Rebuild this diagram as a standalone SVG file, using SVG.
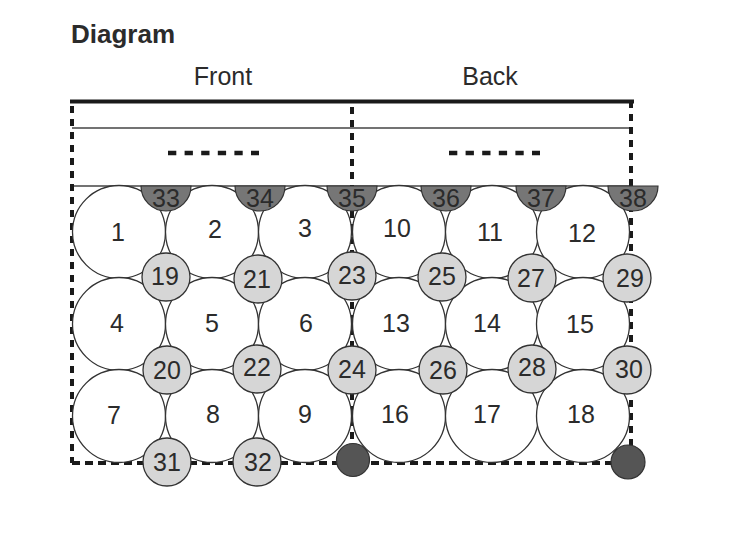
<svg xmlns="http://www.w3.org/2000/svg" width="755" height="547" viewBox="0 0 755 547">
<style>
text{font-family:"Liberation Sans",Arial,Helvetica,sans-serif;fill:#2b2b2b;}
.t{font-size:25px;text-anchor:middle;}
.big{fill:#fff;stroke:#333;stroke-width:1.3;}
.sm{fill:#d6d6d6;stroke:#333;stroke-width:1.3;}
.semi{fill:#767676;stroke:#333;stroke-width:1.2;}
.dk{fill:#555;stroke:#333;stroke-width:1.2;}
.dash{stroke:#1a1a1a;stroke-width:4;fill:none;stroke-dasharray:7 6;}
.thin{stroke:#444;stroke-width:1.5;fill:none;}
</style>
<rect width="755" height="547" fill="#fff"/>
<text x="71" y="43" style="font-size:26px;font-weight:bold;">Diagram</text>
<text class="t" x="223" y="85">Front</text>
<text class="t" x="490" y="85">Back</text>
<g id="frame">
<line x1="70" y1="101.5" x2="634" y2="101.5" stroke="#1a1a1a" stroke-width="4"/>
<line class="thin" x1="72" y1="128" x2="631" y2="128"/>
<line class="thin" x1="72" y1="186" x2="633" y2="186"/>
<line class="dash" x1="72" y1="106" x2="72" y2="463"/>
<line class="dash" x1="352" y1="107" x2="352" y2="460"/>
<line class="dash" x1="631" y1="101" x2="631" y2="460"/>
<line class="dash" x1="72" y1="463" x2="628" y2="463" style="stroke-dasharray:8 5"/>
<line class="dash" x1="168" y1="153" x2="259" y2="153" style="stroke-dasharray:8.3 8.3;stroke-width:4.5"/>
<line class="dash" x1="449" y1="153" x2="540" y2="153" style="stroke-dasharray:8.3 8.3;stroke-width:4.5"/>
</g>
<g id="n1"><circle class="big" cx="119" cy="232" r="46.5"/></g>
<g id="n2"><circle class="big" cx="212" cy="232" r="46.5"/></g>
<g id="n3"><circle class="big" cx="305" cy="232" r="46.5"/></g>
<g id="n10"><circle class="big" cx="399" cy="232" r="46.5"/></g>
<g id="n11"><circle class="big" cx="492" cy="232" r="46.5"/></g>
<g id="n12"><circle class="big" cx="583" cy="232" r="46.5"/></g>
<g id="n4"><circle class="big" cx="119" cy="324" r="46.5"/></g>
<g id="n5"><circle class="big" cx="212" cy="324" r="46.5"/></g>
<g id="n6"><circle class="big" cx="305" cy="324" r="46.5"/></g>
<g id="n13"><circle class="big" cx="399" cy="324" r="46.5"/></g>
<g id="n14"><circle class="big" cx="492" cy="324" r="46.5"/></g>
<g id="n15"><circle class="big" cx="583" cy="324" r="46.5"/></g>
<g id="n7"><circle class="big" cx="119" cy="416" r="46.5"/></g>
<g id="n8"><circle class="big" cx="212" cy="416" r="46.5"/></g>
<g id="n9"><circle class="big" cx="305" cy="416" r="46.5"/></g>
<g id="n16"><circle class="big" cx="399" cy="416" r="46.5"/></g>
<g id="n17"><circle class="big" cx="492" cy="416" r="46.5"/></g>
<g id="n18"><circle class="big" cx="583" cy="416" r="46.5"/></g>
<g id="labels-big">
<text class="t" x="118" y="241">1</text>
<text class="t" x="215" y="238">2</text>
<text class="t" x="305" y="237">3</text>
<text class="t" x="397" y="237">10</text>
<text class="t" x="490" y="241">11</text>
<text class="t" x="582" y="242">12</text>
<text class="t" x="117" y="332">4</text>
<text class="t" x="212" y="332">5</text>
<text class="t" x="306" y="332">6</text>
<text class="t" x="396" y="332">13</text>
<text class="t" x="487" y="332">14</text>
<text class="t" x="580" y="333">15</text>
<text class="t" x="114" y="424">7</text>
<text class="t" x="213" y="423">8</text>
<text class="t" x="305" y="423">9</text>
<text class="t" x="395" y="423">16</text>
<text class="t" x="487" y="423">17</text>
<text class="t" x="581" y="423">18</text>
</g>
<g id="n19"><circle class="sm" cx="166" cy="277" r="24"/><text class="t" x="165" y="285">19</text></g>
<g id="n21"><circle class="sm" cx="258" cy="279" r="24"/><text class="t" x="257" y="288">21</text></g>
<g id="n23"><circle class="sm" cx="352" cy="276" r="24"/><text class="t" x="352" y="284">23</text></g>
<g id="n25"><circle class="sm" cx="442" cy="277" r="24"/><text class="t" x="442" y="285">25</text></g>
<g id="n27"><circle class="sm" cx="532" cy="278" r="24"/><text class="t" x="531" y="287">27</text></g>
<g id="n29"><circle class="sm" cx="627" cy="278" r="24"/><text class="t" x="630" y="287">29</text></g>
<g id="n20"><circle class="sm" cx="167" cy="370" r="24"/><text class="t" x="167" y="379">20</text></g>
<g id="n22"><circle class="sm" cx="257" cy="369" r="24"/><text class="t" x="257" y="376">22</text></g>
<g id="n24"><circle class="sm" cx="352" cy="370" r="24"/><text class="t" x="352" y="378">24</text></g>
<g id="n26"><circle class="sm" cx="443" cy="370" r="24"/><text class="t" x="443" y="379">26</text></g>
<g id="n28"><circle class="sm" cx="532" cy="369" r="24"/><text class="t" x="532" y="376">28</text></g>
<g id="n30"><circle class="sm" cx="627" cy="370" r="24"/><text class="t" x="629" y="378">30</text></g>
<g id="n31"><circle class="sm" cx="167" cy="462" r="24"/><text class="t" x="167" y="471">31</text></g>
<g id="n32"><circle class="sm" cx="257" cy="462" r="24"/><text class="t" x="258" y="471">32</text></g>
<g id="n33"><path class="semi" d="M141,186 A25,25 0 0 0 191,186 Z"/><text class="t" x="166" y="207">33</text></g>
<g id="n34"><path class="semi" d="M235,186 A25,25 0 0 0 285,186 Z"/><text class="t" x="260" y="207">34</text></g>
<g id="n35"><path class="semi" d="M327,186 A25,25 0 0 0 377,186 Z"/><text class="t" x="352" y="207">35</text></g>
<g id="n36"><path class="semi" d="M421,186 A25,25 0 0 0 471,186 Z"/><text class="t" x="446" y="207">36</text></g>
<g id="n37"><path class="semi" d="M516,186 A25,25 0 0 0 566,186 Z"/><text class="t" x="541" y="207">37</text></g>
<g id="n38"><path class="semi" d="M608,186 A25,25 0 0 0 658,186 Z"/><text class="t" x="633" y="207">38</text></g>
<g id="d1"><circle class="dk" cx="353" cy="460" r="16.5"/></g>
<g id="d2"><circle class="dk" cx="628" cy="462" r="17"/></g>
</svg>
